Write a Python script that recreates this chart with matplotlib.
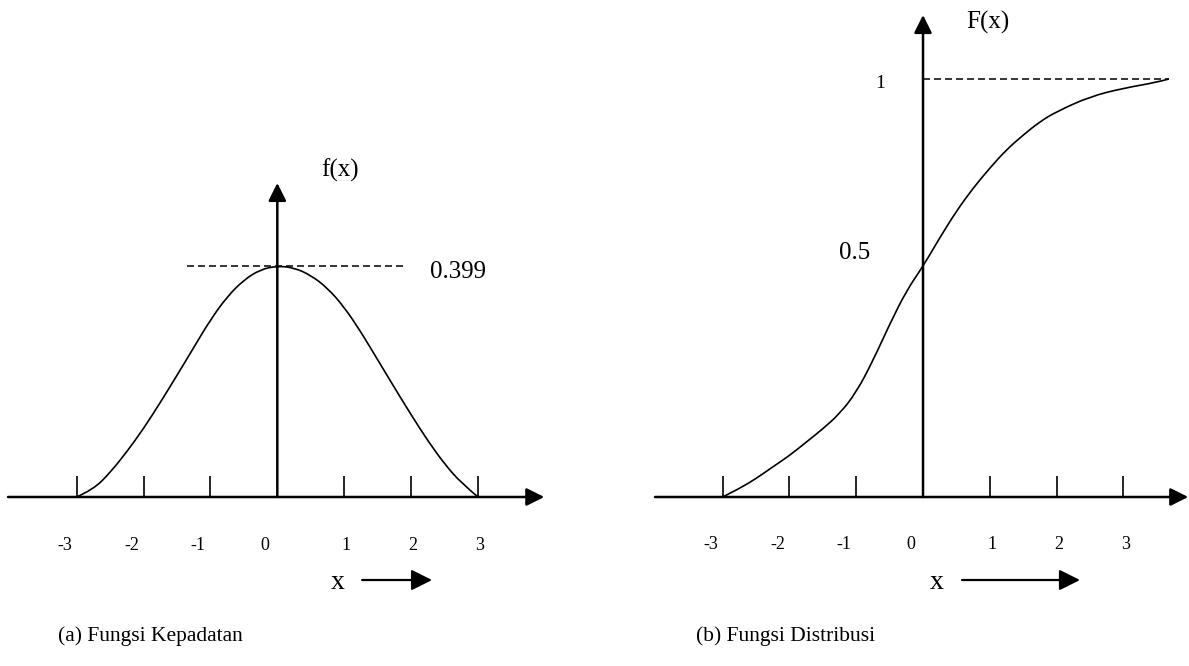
import matplotlib
matplotlib.use("Agg")
import matplotlib.pyplot as plt
from matplotlib.path import Path
from matplotlib.patches import PathPatch

plt.rcParams['font.family'] = ['Liberation Serif', 'DejaVu Serif']

# kurva (a) fungsi kepadatan
x_pdf = [-3, -2.75, -2.5, -2.25, -2, -1.75, -1.5, -1.25, -1, -0.75, -0.5, -0.25, 0,
         0.25, 0.5, 0.75, 1, 1.25, 1.5, 1.75, 2, 2.25, 2.5, 2.75, 3]
f_pdf = [0, 0.013, 0.042, 0.078, 0.118, 0.163, 0.210, 0.258, 0.306, 0.346, 0.375, 0.393, 0.399,
         0.396, 0.383, 0.361, 0.328, 0.285, 0.237, 0.189, 0.142, 0.097, 0.057, 0.024, 0]

# kurva (b) fungsi distribusi
x_cdf = [-3, -2.75, -2.5, -2.25, -2, -1.75, -1.5, -1.25, -1, -0.75, -0.5, -0.25, 0,
         0.25, 0.5, 0.75, 1, 1.25, 1.5, 1.75, 2, 2.5, 3, 3.5, 3.68]
F_cdf = [0, 0.020, 0.044, 0.072, 0.099, 0.131, 0.163, 0.199, 0.250, 0.326, 0.413, 0.493, 0.552,
         0.620, 0.684, 0.739, 0.787, 0.831, 0.866, 0.898, 0.922, 0.958, 0.978, 0.992, 1.0]

ticks = [-3, -2, -1, 0, 1, 2, 3]
pdf_peak = 0.399
cdf_mid = 0.5
cdf_top = 1


def arrow(ax, x0, y0, x1, y1, lw=1.8, ms=18, hl=0.6, hw=0.3):
    ax.annotate('', xy=(x1, y1), xytext=(x0, y0), annotation_clip=False,
                arrowprops=dict(arrowstyle=f'-|>,head_length={hl},head_width={hw}',
                                mutation_scale=ms, lw=lw, color='k',
                                shrinkA=0, shrinkB=0))


def draw_ticks(ax, tick_h, label_y):
    for t in ticks:
        if t != 0:
            ax.plot([t, t], [0, tick_h], color='k', lw=1.2, solid_capstyle='butt')
        off = -0.18 if t <= 0 else 0.03
        ax.text(t + off, label_y, str(t), fontsize=13, ha='center', va='center')


def smooth_curve(ax, xs, ys):
    # kurva halus: titik-titik data jadi titik kontrol bezier kuadrat
    pts = list(zip(xs, ys))
    verts = [pts[0]]
    codes = [Path.MOVETO]
    for i in range(1, len(pts) - 1):
        if i < len(pts) - 2:
            end = ((pts[i][0] + pts[i + 1][0]) / 2, (pts[i][1] + pts[i + 1][1]) / 2)
        else:
            end = pts[-1]
        verts += [pts[i], end]
        codes += [Path.CURVE3, Path.CURVE3]
    ax.add_patch(PathPatch(Path(verts, codes), fill=False, edgecolor='k', lw=1.2))


fig = plt.figure(figsize=(11.89, 6.66), dpi=100)
ax1 = fig.add_axes([0, 0, 0.5, 1])
ax2 = fig.add_axes([0.5, 0, 0.5, 1])
ax1.set_xlim(-4.145, 4.741)
ax1.set_ylim(-0.2919, 0.8584)
ax2.set_xlim(-4.918, 3.982)
ax2.set_ylim(-0.4043, 1.189)
for ax in (ax1, ax2):
    ax.axis('off')

# --- (a) Fungsi Kepadatan ---
arrow(ax1, -4.025, 0, 3.99, 0)
arrow(ax1, 0, 0, 0, 0.5423)
draw_ticks(ax1, 0.0363, -0.083)
smooth_curve(ax1, x_pdf, f_pdf)
ax1.plot([-1.35, 1.906], [pdf_peak, pdf_peak], color='k', lw=1.1,
         linestyle=(0, (4.6, 2.6)))
ax1.text(2.283, pdf_peak - 0.011, str(pdf_peak), fontsize=18, ha='left', va='center')
ax1.text(0.937, 0.565, 'f(x)', fontsize=18, ha='center', va='center')
ax1.text(0.907, -0.1485, 'x', fontsize=20, ha='center', va='center')
arrow(ax1, 1.267, -0.1434, 2.313, -0.1434, lw=1.6, ms=14, hl=0.9, hw=0.45)
ax1.text(-1.90, -0.240, '(a) Fungsi Kepadatan', fontsize=15.5, ha='center', va='center')

# --- (b) Fungsi Distribusi ---
arrow(ax2, -4.012, 0, 3.97, 0)
arrow(ax2, 0, 0, 0, 1.153)
draw_ticks(ax2, 0.0502, -0.1148)
smooth_curve(ax2, x_cdf, F_cdf)
ax2.plot([0, x_cdf[-1]], [cdf_top, cdf_top], color='k', lw=1.1,
         linestyle=(0, (4.6, 2.6)))
ax2.text(-0.644, cdf_top - 0.01, str(cdf_top), fontsize=14, ha='center', va='center')
ax2.text(-1.018, cdf_mid + 0.084, str(cdf_mid), fontsize=18, ha='center', va='center')
ax2.text(0.973, 1.136, 'F(x)', fontsize=18, ha='center', va='center')
ax2.text(0.21, -0.2057, 'x', fontsize=20, ha='center', va='center')
arrow(ax2, 0.584, -0.1986, 2.35, -0.1986, lw=1.6, ms=14, hl=0.9, hw=0.45)
ax2.text(-2.06, -0.3325, '(b) Fungsi Distribusi', fontsize=15.5, ha='center', va='center')

fig.savefig('out.png', dpi=100)
